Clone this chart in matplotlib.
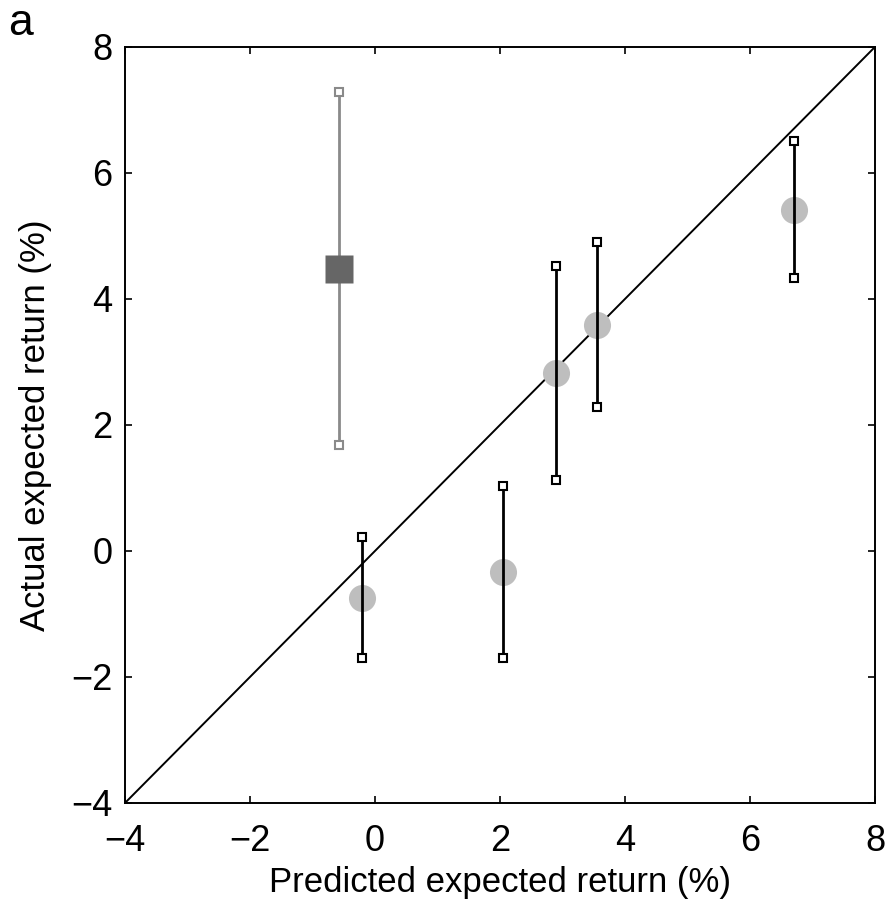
import numpy as np
import matplotlib.pyplot as plt

plt.rcParams['font.family'] = ['Liberation Sans', 'DejaVu Sans']

# model points (circles with error bars)
pred = [-0.2, 2.05, 2.9, 3.56, 6.7]
actual = [-0.75, -0.33, 2.82, 3.58, 5.42]
err_hi = [0.22, 1.03, 4.53, 4.9, 6.5]
err_lo = [-1.7, -1.7, 1.12, 2.28, 4.33]

# outlier (square)
out_pred = [-0.58]
out_actual = [4.48]
out_hi = [7.28]
out_lo = [1.68]

ticks = [-4, -2, 0, 2, 4, 6, 8]
tick_labels = ['\u22124', '\u22122', '0', '2', '4', '6', '8']

fig = plt.figure(figsize=(8.94, 9.10), dpi=100)
ax = fig.add_axes([0.1398, 0.1176, 0.8389, 0.8308])

ax.plot([-4, 8], [-4, 8], color='black', lw=1.4, zorder=2)

for x, lo, hi in zip(pred, err_lo, err_hi):
    ax.plot([x, x], [lo, hi], color='black', lw=2, zorder=3)
    ax.plot([x, x], [lo, hi], ls='none', marker='s', ms=5.5, mfc='white',
            mec='black', mew=1.5, zorder=4)
ax.plot(pred, actual, ls='none', marker='o', ms=19.5, color='#bebebe',
        mec='none', zorder=2.5)

for x, lo, hi in zip(out_pred, out_lo, out_hi):
    ax.plot([x, x], [lo, hi], color='#8a8a8a', lw=2, zorder=3)
    ax.plot([x, x], [lo, hi], ls='none', marker='s', ms=5.5, mfc='white',
            mec='#8a8a8a', mew=1.5, zorder=4)
ax.plot(out_pred, out_actual, ls='none', marker='s', ms=20, color='#666666',
        mec='none', zorder=5)

ax.set_xlim(-4, 8)
ax.set_ylim(-4, 8)
ax.set_xticks(ticks)
ax.set_yticks(ticks)
ax.set_xticklabels(tick_labels)
ax.set_yticklabels(tick_labels)
ax.tick_params(direction='in', length=5, width=1.2, labelsize=26,
               top=True, right=True)
ax.tick_params(axis='x', pad=15)
ax.tick_params(axis='y', pad=9)
for s in ax.spines.values():
    s.set_linewidth(1.4)

ax.set_xlabel('Predicted expected return (%)', fontsize=25, labelpad=5)
ax.set_ylabel('Actual expected return (%)', fontsize=25, labelpad=14)
fig.text(0.009, 0.962, 'a', fontsize=32, va='baseline')

fig.savefig('out.png', dpi=100)
